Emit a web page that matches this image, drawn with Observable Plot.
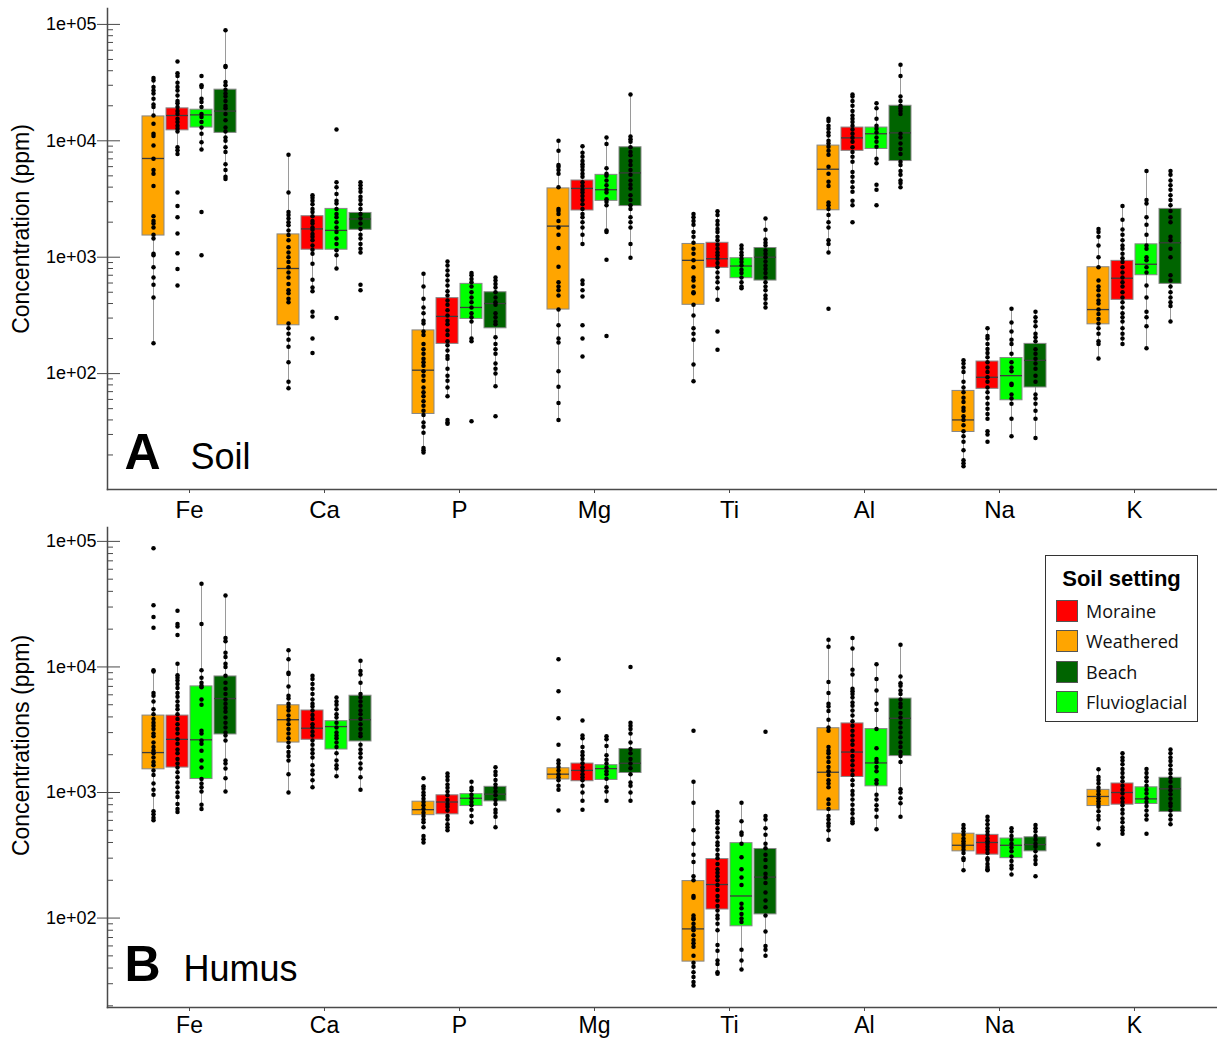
<!DOCTYPE html>
<html>
<head>
<meta charset="utf-8">
<script src="https://cdn.jsdelivr.net/npm/d3@7"></script>
<script src="https://cdn.jsdelivr.net/npm/@observablehq/plot@0.6"></script>
<style>
  body { margin: 0; background: #fff; }
  #wrap { position: relative; width: 1217px; height: 1038px; overflow: hidden; }
  .panel { position: relative; width: 1217px; }
  .panel svg { display: block; }
  .panel .overlay { position: absolute; left: 0; top: 0; }
  .legend { position: absolute; left: 1045px; top: 555px; width: 153px; height: 167px; box-sizing: border-box;
            border: 1.5px solid #333; background: #fff; }
  .legend .ttl { position: absolute; left: 0; width: 100%; top: 10px; text-align: center;
                 font: bold 22px "Liberation Sans", Arial, sans-serif; color: #000; }
  .legend .item { position: absolute; left: 10px; height: 22px; display: flex; align-items: center;
                  font: 18px "Open Sans", sans-serif; color: #111; }
  .legend .sw { width: 22px; height: 22px; border: 1px solid #555; margin-right: 8px; box-sizing: border-box; }
</style>
</head>
<body>
<div id="wrap"></div>
<script>
// ---------- categories ----------
const elements = ["Fe", "Ca", "P", "Mg", "Ti", "Al", "Na", "K"];
const settings = ["Weathered", "Moraine", "Fluvioglacial", "Beach"];
const settingColors = ["#FFA500", "#FF0000", "#00FF00", "#006400"];
const legendOrder = ["Moraine", "Weathered", "Beach", "Fluvioglacial"];
const legendTitle = "Soil setting";

// ---------- axis ticks ----------
const yMajor = [100, 1000, 10000, 100000];
const yMajorLabels = ["1e+02", "1e+03", "1e+04", "1e+05"];
const yMinor = [20, 30, 40, 50, 60, 70, 80, 90,
  200, 300, 400, 500, 600, 700, 800, 900,
  2000, 3000, 4000, 5000, 6000, 7000, 8000, 9000,
  20000, 30000, 40000, 50000, 60000, 70000, 80000, 90000];

// ---------- panel A: Soil (rows = elements, cols = Weathered, Moraine, Fluvioglacial, Beach) ----------
const soilLo = [
  [182, 7700, 8400, 4700], [75, 510, 800, 1100], [21, 64, 190, 78], [40, 1300, 1650, 990],
  [86, 430, 540, 370], [1100, 4000, 6400, 4000], [16, 41, 29, 28], [135, 180, 165, 280]];
const soilQ1 = [
  [1535, 12300, 13000, 11700], [260, 1160, 1160, 1720], [45, 180, 295, 245], [355, 2520, 3050, 2750],
  [390, 810, 660, 630], [2530, 8200, 8500, 6700], [31.5, 74, 59, 76], [265, 430, 700, 590]];
const soilMed = [
  [7050, 16500, 16700, 18000], [800, 1750, 1700, 2130], [107, 310, 370, 400], [1850, 3900, 3800, 5300],
  [940, 970, 840, 1000], [5700, 10600, 11500, 11700], [40, 93, 96, 130], [355, 660, 870, 1330]];
const soilQ3 = [
  [16200, 19000, 18500, 27500], [1570, 2250, 2600, 2400], [235, 445, 590, 500], [3900, 4560, 5100, 8800],
  [1300, 1330, 980, 1200], [9100, 13000, 13000, 20000], [71, 127, 136, 180], [820, 930, 1290, 2600]];
const soilHi = [
  [34600, 36000, 30000, 89000], [7600, 3400, 4400, 3900], [720, 920, 730, 670], [10000, 9000, 10700, 25000],
  [2350, 2480, 1260, 2150], [15500, 25000, 21000, 45000], [130, 245, 360, 340], [1750, 2750, 5500, 5500]];
const soilPoints = [
  [ // Fe
    [34600, 33000, 29000, 27000, 25500, 23000, 20500, 19500, 16500, 14000, 11500, 11000, 9100, 7000, 5600, 5200, 4100, 2250, 2050, 1950, 1800, 1560, 1450, 1070, 1040, 820, 670, 580, 450, 182],
    [48000, 38000, 36000, 31500, 29000, 27000, 24500, 22000, 21000, 19500, 18000, 17000, 15500, 14500, 13500, 12700, 12000, 8800, 8300, 7700, 3600, 2750, 2200, 1600, 1080, 790, 570],
    [36000, 30000, 29000, 23000, 21500, 19500, 17000, 16000, 14500, 13000, 11500, 9700, 8400, 2450, 1040],
    [89000, 44000, 43000, 32000, 30000, 27500, 25500, 24000, 22000, 20000, 19000, 17000, 15000, 13000, 12000, 10700, 10000, 8800, 8000, 6300, 5600, 4900, 4700]],
  [ // Ca
    [7600, 3600, 2450, 2300, 2150, 2000, 1880, 1700, 1550, 1400, 1220, 1100, 1000, 910, 820, 740, 670, 590, 520, 490, 440, 410, 270, 245, 220, 195, 170, 125, 85, 75],
    [3400, 3250, 3050, 2850, 2600, 2450, 2250, 2050, 1950, 1800, 1720, 1580, 1500, 1400, 1260, 1160, 1070, 880, 640, 550, 510, 340, 310, 200, 150],
    [12500, 4400, 4000, 3500, 3050, 2900, 2600, 2350, 2200, 2000, 1800, 1650, 1450, 1300, 1150, 1040, 800, 300],
    [4400, 4150, 3900, 3650, 3300, 3100, 2850, 2600, 2350, 2150, 1950, 1750, 1560, 1450, 1300, 1180, 1100, 580, 520]],
  [ // P
    [720, 560, 440, 370, 330, 285, 270, 230, 215, 180, 162, 148, 134, 125, 117, 105, 96, 87, 76, 69, 64, 58, 53, 48, 44, 38, 35, 31, 23, 22, 21],
    [920, 850, 770, 700, 630, 570, 510, 470, 425, 390, 350, 315, 285, 265, 235, 215, 190, 175, 158, 142, 134, 110, 96, 87, 76, 64, 40, 38, 37],
    [730, 700, 650, 610, 560, 500, 450, 410, 370, 330, 305, 280, 200, 190, 39],
    [670, 630, 590, 550, 500, 450, 410, 390, 330, 305, 280, 265, 205, 180, 162, 148, 122, 110, 100, 78, 43]],
  [ // Mg
    [10000, 8200, 6200, 6000, 5600, 5200, 4000, 2600, 2500, 2350, 2050, 1800, 1560, 1200, 830, 610, 560, 520, 470, 355, 260, 200, 185, 105, 77, 56, 40],
    [9000, 7900, 7300, 6700, 6300, 6000, 5600, 5200, 4900, 4400, 4100, 3800, 3600, 3350, 3100, 2850, 2600, 2350, 2200, 2000, 1800, 1560, 1300, 630, 590, 520, 460, 260, 200, 140],
    [10700, 9400, 5800, 5200, 5000, 4550, 4150, 3800, 3600, 3150, 3000, 2800, 1700, 1650, 950, 210],
    [25000, 10900, 10300, 9800, 8800, 8000, 7500, 6700, 6200, 5600, 5100, 4550, 4200, 3900, 3400, 3100, 2800, 2600, 2200, 2000, 1800, 1300, 990]],
  [ // Ti
    [2350, 2200, 2050, 1900, 1650, 1500, 1330, 1180, 1070, 940, 820, 670, 630, 560, 500, 490, 390, 315, 245, 220, 195, 120, 86],
    [2480, 2300, 2050, 1900, 1750, 1650, 1500, 1400, 1280, 1180, 1100, 1040, 970, 890, 820, 740, 670, 610, 540, 430, 230, 160],
    [1260, 1180, 1100, 1040, 970, 910, 850, 780, 730, 670, 610, 560, 540],
    [2150, 1720, 1420, 1330, 1260, 1140, 1070, 1000, 920, 850, 790, 730, 670, 610, 560, 520, 470, 440, 400, 370]],
  [ // Al
    [15500, 14800, 13500, 12700, 11800, 11100, 10000, 9500, 8900, 8200, 7600, 6000, 5200, 4450, 4100, 2950, 2800, 2600, 2300, 2000, 1800, 1400, 1300, 1100, 360],
    [25000, 24000, 22000, 20000, 18000, 16500, 15500, 14500, 13500, 12500, 11500, 10600, 9800, 8800, 8000, 7300, 6600, 5400, 4900, 4450, 4000, 3650, 3050, 2800, 2000],
    [21000, 19000, 15500, 13500, 12700, 11800, 10700, 9800, 8900, 7000, 6400, 4200, 3800, 2800],
    [45000, 36000, 24000, 22000, 20000, 19000, 18000, 17000, 11500, 10700, 9500, 8500, 7700, 6600, 6200, 5500, 5100, 4550, 4350, 4000]],
  [ // Na
    [130, 122, 113, 103, 85, 76, 69, 62, 57, 51, 48, 43, 40, 36, 32, 29, 26, 22, 18, 17, 16],
    [245, 210, 200, 180, 163, 150, 138, 125, 113, 103, 93, 85, 76, 69, 62, 55, 50, 45, 41, 32, 30, 26],
    [360, 275, 230, 195, 180, 148, 125, 113, 105, 82, 80, 66, 61, 55, 41, 29],
    [340, 305, 280, 255, 220, 205, 190, 162, 148, 134, 122, 110, 96, 85, 66, 61, 55, 48, 41, 28]],
  [ // K
    [1750, 1650, 1500, 1260, 1000, 820, 630, 560, 520, 470, 425, 400, 355, 325, 295, 270, 245, 220, 190, 180, 135],
    [2750, 2100, 1730, 1560, 1400, 1260, 1180, 1070, 980, 910, 820, 740, 670, 610, 560, 500, 450, 410, 370, 330, 305, 280, 245, 220, 200, 180],
    [5500, 3100, 2900, 2200, 1900, 1560, 1260, 1180, 1000, 940, 820, 740, 570, 450, 340, 305, 255, 165],
    [5500, 5100, 4550, 4150, 3800, 3400, 3100, 2800, 2500, 2200, 2000, 1500, 1400, 1180, 1000, 700, 630, 560, 500, 450, 410, 380, 280]]
];

// ---------- panel B: Humus ----------
const humusLo = [
  [600, 700, 740, 1020], [1000, 1100, 1350, 1050], [530, 500, 580, 530], [1050, 860, 860, 860],
  [29, 36, 39, 50], [420, 570, 510, 640], [240, 240, 222, 270], [520, 470, 610, 560]];
const humusQ1 = [
  [1530, 1580, 1280, 2900], [2500, 2630, 2200, 2550], [660, 670, 780, 850], [1270, 1230, 1260, 1430],
  [45, 117, 86, 107], [720, 1330, 1120, 1950], [340, 320, 300, 340], [780, 800, 810, 700]];
const humusMed = [
  [2080, 2650, 2630, 5600], [3800, 3250, 3350, 3800], [730, 840, 900, 970], [1400, 1500, 1550, 1710],
  [82, 185, 150, 212], [1450, 2100, 1720, 3900], [380, 400, 380, 385], [930, 1000, 890, 1070]];
const humusQ3 = [
  [4100, 4100, 7000, 8400], [4950, 4500, 3700, 5900], [845, 950, 970, 1110], [1560, 1700, 1650, 2220],
  [197, 295, 395, 355], [3250, 3550, 3200, 5600], [470, 460, 430, 440], [1050, 1180, 1100, 1310]];
const humusHi = [
  [9400, 10600, 46000, 37000], [13600, 8500, 5700, 11200], [1120, 1420, 1220, 1590], [1800, 2700, 2800, 3600],
  [1220, 700, 830, 650], [16500, 17000, 10500, 15000], [550, 640, 520, 550], [1530, 2050, 1540, 2200]];
const humusPoints = [
  [ // Fe
    [88000, 31000, 25000, 20500, 9400, 9200, 6200, 5900, 5300, 4600, 4200, 3850, 3600, 3400, 3200, 2950, 2800, 2500, 2300, 2150, 2050, 1900, 1750, 1650, 1500, 1380, 1180, 1050, 960, 710, 670, 630, 600],
    [28000, 22000, 21000, 18000, 10600, 8600, 8200, 7800, 7300, 6800, 6200, 5800, 5300, 4900, 4600, 4200, 3850, 3500, 3200, 2950, 2650, 2450, 2200, 2050, 1850, 1700, 1580, 1450, 1320, 1200, 1100, 1000, 920, 810, 740, 700],
    [46000, 22000, 9400, 8200, 7500, 7100, 6900, 5500, 5000, 3100, 2950, 2600, 2450, 2150, 1800, 1580, 1280, 1180, 1100, 1020, 800, 740],
    [37000, 17000, 16000, 13000, 12000, 10600, 10000, 8500, 7500, 6700, 6100, 5500, 5100, 4700, 4400, 3950, 3600, 3300, 3000, 2850, 2600, 1800, 1700, 1550, 1300, 1020]],
  [ // Ca
    [13600, 11500, 9000, 8800, 7000, 5900, 5600, 5100, 4800, 4500, 4100, 3800, 3500, 3200, 2950, 2700, 2500, 2300, 2100, 1950, 1800, 1400, 1000],
    [8500, 8000, 7300, 6700, 6100, 5500, 5100, 4850, 4500, 4150, 3850, 3500, 3300, 3050, 2850, 2600, 2400, 2200, 2050, 1900, 1650, 1500, 1400, 1250, 1100],
    [5700, 5300, 5000, 4600, 4200, 3950, 3600, 3300, 3000, 2850, 2700, 2500, 2300, 2050, 1800, 1650, 1550, 1350],
    [11200, 9300, 8700, 7500, 6100, 5700, 5300, 4900, 4500, 4200, 3850, 3500, 3200, 2950, 2800, 2400, 2200, 2050, 1900, 1700, 1550, 1320, 1050]],
  [ // P
    [1300, 1120, 1070, 1000, 950, 890, 840, 790, 740, 690, 650, 610, 580, 530, 450, 425, 400],
    [1420, 1340, 1260, 1160, 1090, 1020, 950, 870, 810, 770, 720, 650, 610, 560, 530, 500],
    [1220, 1090, 1040, 960, 900, 840, 790, 730, 650, 580],
    [1590, 1460, 1380, 1260, 1160, 1090, 1020, 950, 870, 810, 730, 690, 640, 530]],
  [ // Mg
    [11500, 6400, 3900, 2400, 1800, 1700, 1600, 1500, 1400, 1320, 1250, 1130, 1050, 720],
    [3750, 2850, 2700, 2300, 2100, 1980, 1850, 1710, 1590, 1500, 1400, 1320, 1250, 1130, 1000, 860, 730],
    [2800, 2650, 2350, 1980, 1820, 1700, 1580, 1480, 1400, 1290, 1100, 1020, 860],
    [10000, 3600, 3400, 3200, 2950, 2500, 2220, 2050, 1850, 1700, 1560, 1400, 1200, 1130, 1000, 860]],
  [ // Ti
    [3100, 1220, 830, 500, 390, 320, 280, 215, 200, 150, 145, 105, 100, 98, 90, 84, 80, 73, 67, 63, 59, 50, 44, 41, 37, 34, 31, 29],
    [700, 650, 600, 570, 520, 480, 440, 400, 380, 350, 320, 300, 270, 245, 230, 215, 200, 183, 167, 150, 138, 125, 115, 105, 99, 90, 80, 61, 55, 46, 43, 37, 36],
    [830, 590, 480, 460, 390, 305, 245, 210, 183, 130, 120, 108, 99, 93, 56, 46, 39],
    [3050, 650, 610, 520, 460, 390, 360, 320, 290, 255, 225, 210, 190, 160, 138, 122, 105, 78, 60, 56, 50]],
  [ // Al
    [16500, 14500, 7600, 6200, 5100, 4850, 4450, 3800, 3300, 3100, 2300, 2150, 2050, 1900, 1750, 1600, 1480, 1380, 1250, 1180, 1100, 880, 810, 740, 650, 610, 570, 540, 500, 420],
    [17000, 14000, 9500, 8700, 6700, 6400, 6100, 5700, 5200, 4900, 4500, 4100, 3700, 3400, 3100, 2850, 2600, 2400, 2150, 1950, 1800, 1650, 1500, 1380, 1250, 1150, 1030, 960, 880, 800, 730, 680, 620, 590, 570],
    [10500, 8000, 6500, 5100, 4550, 3200, 2250, 1850, 1750, 1600, 1480, 1250, 1180, 960, 880, 790, 730, 640, 510],
    [15000, 8400, 7400, 7100, 6500, 6100, 5500, 5100, 4800, 4300, 3950, 3600, 3300, 3000, 2750, 2500, 2300, 2100, 1950, 1750, 1060, 1000, 900, 820, 640]],
  [ // Na
    [550, 520, 490, 460, 430, 410, 390, 370, 350, 330, 300, 290, 240],
    [640, 600, 560, 520, 490, 460, 430, 410, 390, 370, 350, 330, 300, 290, 270, 255, 245, 240],
    [520, 490, 450, 420, 390, 365, 340, 310, 285, 262, 248, 222],
    [550, 520, 490, 450, 420, 390, 370, 340, 310, 290, 270, 215]],
  [ // K
    [1530, 1330, 1260, 1180, 1090, 1030, 970, 900, 850, 810, 770, 710, 650, 610, 520, 385],
    [2050, 1900, 1800, 1680, 1540, 1430, 1320, 1230, 1130, 1050, 980, 900, 840, 790, 730, 680, 620, 580, 530, 500, 470],
    [1540, 1430, 1320, 1230, 1130, 1050, 980, 900, 840, 780, 720, 660, 610, 470],
    [2200, 2050, 1900, 1780, 1650, 1520, 1420, 1310, 1220, 1110, 1040, 970, 890, 820, 780, 720, 660, 610, 560]]
];

// ---------- build tables ----------
function boxTable(lo, q1, med, q3, hi) {
  const out = [];
  elements.forEach((e, i) => settings.forEach((s, j) =>
    out.push({element: e, setting: s, lo: lo[i][j], q1: q1[i][j], med: med[i][j], q3: q3[i][j], hi: hi[i][j]})));
  return out;
}
function pointTable(pts) {
  const out = [];
  elements.forEach((e, i) => settings.forEach((s, j) =>
    pts[i][j].forEach(v => out.push({element: e, setting: s, value: v}))));
  return out;
}

const AXIS = "#4a4a4a";
const FONT = "'Liberation Sans', Arial, Helvetica, sans-serif";
const fmt = new Map(yMajor.map((v, i) => [v, yMajorLabels[i]]));

function panel({boxes, points, yDomain, height, marginTop, letter, name, yLabel, textDy, nameDx, labelDy, fxPad, fxSize}) {
  const minors = yMinor.filter(v => v >= yDomain[0] && v <= yDomain[1]);
  const common = {
    width: 1217, height, marginLeft: 107, marginRight: 0, marginTop, marginBottom: 31,
    style: {fontFamily: FONT, color: "black", overflow: "visible", background: "transparent"}
  };
  // boxes & points, faceted by element
  const main = Plot.plot({
    ...common,
    fx: {domain: elements, paddingInner: 0.243, paddingOuter: 0.2215, axis: null, label: null},
    x: {domain: settings, padding: 0.084, axis: null, label: null},
    y: {type: "log", domain: yDomain, axis: null, label: null},
    color: {domain: settings, range: settingColors},
    marks: [
      Plot.ruleX(boxes, {fx: "element", x: "setting", y1: "lo", y2: "hi", stroke: "#9a9a9a", strokeWidth: 1}),
      Plot.barY(boxes, {fx: "element", x: "setting", y1: "q1", y2: "q3", fill: "setting", stroke: "#878787", strokeWidth: 1}),
      Plot.tickY(boxes, {fx: "element", x: "setting", y: "med", stroke: "#3c3c3c", strokeWidth: 1.3}),
      Plot.dot(points, {fx: "element", x: "setting", y: "value", r: 2.25, fill: "black", stroke: "none"}),
      Plot.axisFx({anchor: "bottom", tickSize: 4, tickPadding: fxPad, fontSize: fxSize, label: null, stroke: AXIS, fill: "black"})
    ]
  });
  // y axis, axis lines and panel annotations (same y scale, not faceted)
  const over = Plot.plot({
    ...common,
    y: {type: "log", domain: yDomain, axis: null, label: null},
    marks: [
      Plot.frame({anchor: "left", stroke: AXIS, strokeWidth: 1.5}),
      Plot.frame({anchor: "bottom", stroke: AXIS, strokeWidth: 1.5}),
      Plot.axisY({ticks: minors, tickSize: -6, text: null, label: null, stroke: AXIS}),
      Plot.axisY({ticks: yMajor, tickSize: -13, text: null, label: null, stroke: AXIS}),
      Plot.axisY({ticks: yMajor, tickFormat: d => fmt.get(d), tickSize: 10, tickPadding: 1,
                  fontSize: 18, label: null, stroke: AXIS, fill: "black"}),
      Plot.text([letter], {frameAnchor: "bottom-left", text: d => d, dx: 17, dy: textDy,
                           lineAnchor: "bottom", textAnchor: "start", fontSize: 50, fontWeight: "bold", fill: "black"}),
      Plot.text([name], {frameAnchor: "bottom-left", text: d => d, dx: nameDx, dy: textDy,
                         lineAnchor: "bottom", textAnchor: "start", fontSize: 36, fill: "black"}),
      Plot.text([yLabel], {frameAnchor: "left", text: d => d, dx: -86, dy: labelDy, rotate: -90,
                           textAnchor: "middle", lineAnchor: "middle", fontSize: 23, fill: "black"})
    ]
  });
  over.classList.add("overlay");
  const div = document.createElement("div");
  div.className = "panel";
  div.style.height = height + "px";
  div.appendChild(main);
  div.appendChild(over);
  return div;
}

const wrap = document.getElementById("wrap");
wrap.appendChild(panel({
  boxes: boxTable(soilLo, soilQ1, soilMed, soilQ3, soilHi),
  points: pointTable(soilPoints),
  yDomain: [10.1, 137000], height: 520, marginTop: 8,
  letter: "A", name: "Soil", yLabel: "Concentration (ppm)", textDy: -21, nameDx: 83, labelDy: -20,
  fxPad: 7, fxSize: 24
}));
wrap.appendChild(panel({
  boxes: boxTable(humusLo, humusQ1, humusMed, humusQ3, humusHi),
  points: pointTable(humusPoints),
  yDomain: [19.4, 129000], height: 518, marginTop: 7,
  letter: "B", name: "Humus", yLabel: "Concentrations (ppm)", textDy: -27, nameDx: 76, labelDy: -22,
  fxPad: 5, fxSize: 23
}));

// ---------- legend ----------
const color = new Map(settings.map((s, i) => [s, settingColors[i]]));
const lg = document.createElement("div");
lg.className = "legend";
const ttl = document.createElement("div");
ttl.className = "ttl";
ttl.textContent = legendTitle;
lg.appendChild(ttl);
legendOrder.forEach((s, i) => {
  const it = document.createElement("div");
  it.className = "item";
  it.style.top = (43.5 + i * 30.5) + "px";
  const sw = document.createElement("span");
  sw.className = "sw";
  sw.style.background = color.get(s);
  const tx = document.createElement("span");
  tx.textContent = s;
  it.appendChild(sw);
  it.appendChild(tx);
  lg.appendChild(it);
});
wrap.appendChild(lg);
</script>
</body>
</html>
